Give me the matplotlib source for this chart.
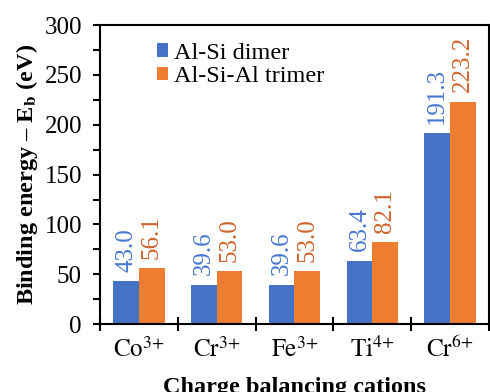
import numpy as np
import matplotlib
matplotlib.use('Agg')
import matplotlib.pyplot as plt
from matplotlib.ticker import MultipleLocator

plt.rcParams['font.family'] = ['Liberation Serif', 'DejaVu Serif']
plt.rcParams['mathtext.fontset'] = 'stix'

cations = ['$\\mathrm{Co}^{3{+}}$', '$\\mathrm{Cr}^{3{+}}$', '$\\mathrm{Fe}^{3{+}}$',
           '$\\mathrm{Ti}^{4{+}}$', '$\\mathrm{Cr}^{6{+}}$']
dimer = [43.0, 39.6, 39.6, 63.4, 191.3]
trimer = [56.1, 53.0, 53.0, 82.1, 223.2]
series_names = ['Al-Si dimer', 'Al-Si-Al trimer']

blue = '#4472C4'
orange = '#ED7D31'
blue_txt = '#4878D0'
orange_txt = '#D0622A'

fig = plt.figure(figsize=(4.9, 3.92), dpi=100)
ax = fig.add_axes([0.204, 0.173, 0.794, 0.763])

x = np.arange(len(cations))
w = 0.33
b1 = ax.bar(x - w / 2, dimer, w, color=blue, label=series_names[0])
b2 = ax.bar(x + w / 2, trimer, w, color=orange, label=series_names[1])

for rect, v in zip(b1, dimer):
    ax.annotate(f'{v:.1f}', (rect.get_x() + rect.get_width() / 2, v),
                xytext=(0, 7), textcoords='offset points', rotation=90,
                ha='center', va='bottom', color=blue_txt, fontsize=18)
for rect, v in zip(b2, trimer):
    ax.annotate(f'{v:.1f}', (rect.get_x() + rect.get_width() / 2, v),
                xytext=(0, 7), textcoords='offset points', rotation=90,
                ha='center', va='bottom', color=orange_txt, fontsize=18)

ax.set_xlim(-0.5, len(cations) - 0.5)
ax.set_ylim(0, 300)
ax.yaxis.set_major_locator(MultipleLocator(50))
ax.yaxis.set_minor_locator(MultipleLocator(25))
ax.set_xticks(x)
ax.set_xticklabels(cations, fontsize=18)
ax.set_xticks(np.arange(-0.5, len(cations)), minor=True)
ax.tick_params(axis='x', which='major', length=0, pad=9)
ax.tick_params(axis='x', which='minor', direction='inout', length=10, width=1.5)
ax.tick_params(axis='y', which='both', direction='out', length=5, width=1.5,
               labelsize=18, pad=8)

for s in ax.spines.values():
    s.set_linewidth(1.5)

ax.set_ylabel('Binding energy – E$_\\mathbf{b}$ (eV)', fontsize=17.5, fontweight='bold', labelpad=3)
ax.set_xlabel('Charge balancing cations', fontsize=17.5, fontweight='bold', labelpad=11)

ax.legend(loc='upper left', bbox_to_anchor=(0.11, 0.99), frameon=False, fontsize=17.5,
          handlelength=0.45, handleheight=0.45, handletextpad=0.25, labelspacing=0.1,
          borderaxespad=0.2)

fig.savefig('out.png', dpi=100)
